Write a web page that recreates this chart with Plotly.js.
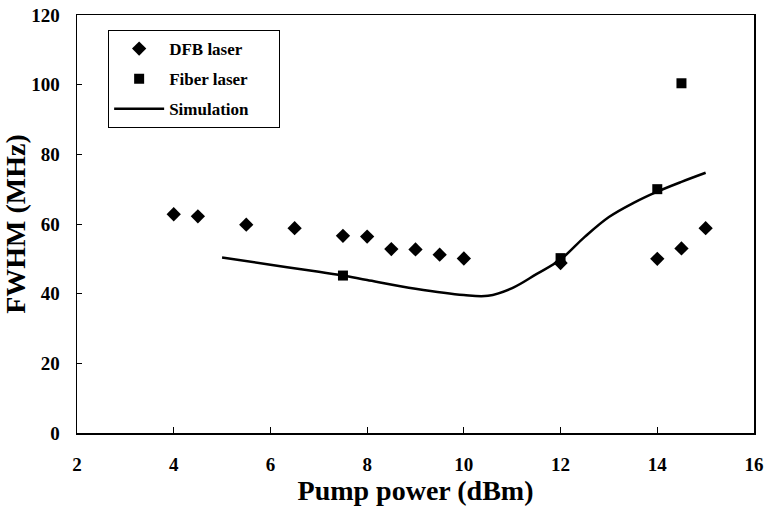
<!DOCTYPE html>
<html>
<head>
<meta charset="utf-8">
<script src="https://cdn.plot.ly/plotly-3.0.1.min.js"></script>
<style>html,body{margin:0;padding:0;background:#fff;}#chart{width:765px;height:506px;}</style>
</head>
<body>
<div id="chart"></div>
<script>
// DFB laser measurements
const dfbPower = [4, 4.5, 5.5, 6.5, 7.5, 8, 8.5, 9, 9.5, 10, 12, 14, 14.5, 15];
const dfbFwhm  = [62.8, 62.2, 59.8, 58.8, 56.6, 56.4, 52.8, 52.7, 51.2, 50.1, 48.8, 50.0, 53.0, 58.8];
// Fiber laser measurements
const fiberPower = [7.5, 12, 14, 14.5];
const fiberFwhm  = [45.2, 50.2, 70.0, 100.4];
// Simulation curve
const simPower = [5, 6, 7, 7.5, 8, 9, 10, 10.5, 11, 11.5, 12, 12.5, 13, 13.5, 14, 14.5, 15];
const simFwhm  = [50.4, 48.3, 46.3, 45.2, 43.9, 41.4, 39.6, 39.4, 41.6, 45.6, 49.8, 56.3, 62.0, 66.0, 69.3, 72.1, 74.7];
// Axis ticks
const xTicks = [2, 4, 6, 8, 10, 12, 14, 16];
const yTicks = [0, 20, 40, 60, 80, 100, 120];

const fontFam = '"Liberation Serif", "Times New Roman", serif';
const pad = '\u00a0'.repeat(6);

const traces = [
  {x: dfbPower, y: dfbFwhm, type: 'scatter', mode: 'markers', name: '<b>DFB laser</b>' + pad, legendgroup: 'a',
   marker: {symbol: 'diamond', size: 11, color: '#000'}},
  {x: fiberPower, y: fiberFwhm, type: 'scatter', mode: 'markers', name: '<b>Fiber laser</b>' + pad, legendgroup: 'b',
   marker: {symbol: 'square', size: 10, color: '#000'}},
  {x: simPower, y: simFwhm, type: 'scatter', mode: 'lines', name: '<b>Simulation</b>' + pad, legendgroup: 'c',
   line: {color: '#000', width: 2.5, shape: 'spline', smoothing: 1}}
];

const layout = {
  width: 765, height: 506,
  paper_bgcolor: '#fff', plot_bgcolor: '#fff',
  margin: {l: 77, r: 11, t: 15, b: 73},
  font: {family: fontFam, color: '#000'},
  showlegend: true,
  legend: {
    x: 0.046, y: 0.964, xanchor: 'left', yanchor: 'top',
    bordercolor: '#000', borderwidth: 1, bgcolor: '#fff',
    font: {family: fontFam, size: 17, color: '#000'},
    tracegroupgap: 5, traceorder: 'grouped',
    itemwidth: 50
  },
  xaxis: {
    range: [2, 16], tickvals: xTicks, ticktext: xTicks.map(String),
    ticks: 'inside', ticklen: 6, tickwidth: 1, tickcolor: '#000',
    showline: true, linecolor: '#000', linewidth: 1.5, mirror: true,
    showgrid: false, zeroline: false,
    tickfont: {family: fontFam, size: 19, color: '#000', weight: 'bold'},
    ticklabelstandoff: 14,
    title: {text: '<b>Pump power (dBm)</b>', font: {family: fontFam, size: 28, color: '#000'}, standoff: 1}
  },
  yaxis: {
    range: [0, 120], tickvals: yTicks, ticktext: yTicks.map(String),
    ticks: 'inside', ticklen: 5, tickwidth: 1, tickcolor: '#000',
    showline: true, linecolor: '#000', linewidth: 1.5, mirror: true,
    showgrid: false, zeroline: false,
    tickfont: {family: fontFam, size: 19, color: '#000', weight: 'bold'},
    ticklabelstandoff: 12,
    title: {text: '<b>FWHM (MHz)</b>', font: {family: fontFam, size: 28, color: '#000'}, standoff: 8}
  }
};

Plotly.newPlot('chart', traces, layout, {displayModeBar: false, staticPlot: true});
</script>
</body>
</html>
